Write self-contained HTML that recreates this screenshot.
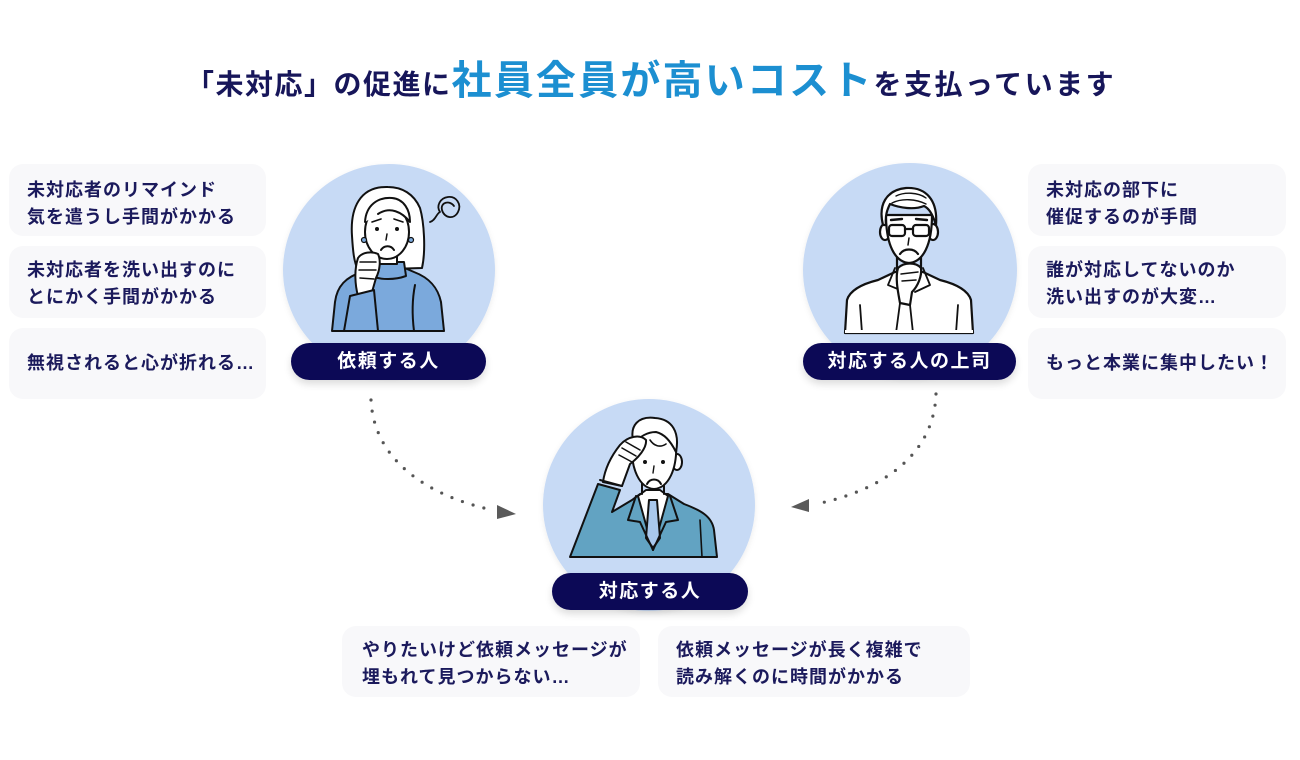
<!DOCTYPE html>
<html lang="ja">
<head>
<meta charset="utf-8">
<style>
  html,body{margin:0;padding:0;background:#fff;}
  body{width:1300px;height:760px;position:relative;overflow:hidden;
    font-family:"Liberation Sans","Noto Sans CJK JP",sans-serif;}
  .title{position:absolute;left:186px;top:61px;white-space:nowrap;font-weight:700;
    font-size:40px;line-height:40px;color:#17165a;}
  .title .n1{font-size:28px;letter-spacing:1.5px;}
  .title .n2{font-size:28px;letter-spacing:2.5px;}
  .title .b{font-size:40px;letter-spacing:2.2px;color:#1c8fd1;}
  .card{position:absolute;background:#f8f8fa;border-radius:14px;}
  .txt{position:absolute;font-size:18px;line-height:27px;font-weight:700;color:#1b1a5c;
    letter-spacing:1px;white-space:nowrap;}
  .pill{position:absolute;height:37px;border-radius:19px;background:#0c0956;color:#fff;
    font-weight:700;font-size:19px;letter-spacing:1.5px;line-height:37px;text-align:center;
    box-shadow:0 4px 8px rgba(0,0,0,0.14);}
  svg{position:absolute;left:0;top:0;}
</style>
</head>
<body>

<div class="title"><span class="n1">「未対応」の促進に</span><span class="b">社員全員が高いコスト</span><span class="n2">を支払っています</span></div>

<!-- left cards -->
<div class="card" style="left:9px;top:164px;width:257px;height:72px;"></div>
<div class="card" style="left:9px;top:246px;width:257px;height:72px;"></div>
<div class="card" style="left:9px;top:328px;width:257px;height:71px;"></div>
<!-- right cards -->
<div class="card" style="left:1028px;top:164px;width:258px;height:72px;"></div>
<div class="card" style="left:1028px;top:246px;width:258px;height:72px;"></div>
<div class="card" style="left:1028px;top:328px;width:258px;height:71px;"></div>
<!-- bottom cards -->
<div class="card" style="left:342px;top:626px;width:298px;height:71px;"></div>
<div class="card" style="left:658px;top:626px;width:312px;height:71px;"></div>

<svg width="1300" height="760" viewBox="0 0 1300 760">
  <defs>
    <clipPath id="c1"><circle cx="389" cy="270" r="106"/></clipPath>
    <clipPath id="c2"><circle cx="910" cy="270" r="107"/></clipPath>
    <clipPath id="c3"><circle cx="649" cy="505" r="106"/></clipPath>
    <filter id="sh" x="-20%" y="-20%" width="140%" height="140%">
      <feDropShadow dx="0" dy="2" stdDeviation="3" flood-color="#000" flood-opacity="0.08"/>
    </filter>
  </defs>

  <!-- circles -->
  <circle cx="389" cy="270" r="106" fill="#c7daf5" filter="url(#sh)"/>
  <circle cx="910" cy="270" r="107" fill="#c7daf5" filter="url(#sh)"/>
  <circle cx="649" cy="505" r="106" fill="#c7daf5" filter="url(#sh)"/>

  <!-- ===== Woman ===== -->
  <g clip-path="url(#c1)" stroke="#111" stroke-width="2" stroke-linejoin="round" stroke-linecap="round">
    <!-- back hair -->
    <path d="M388,187 C360,186 350,208 352,236 C353,252 354,262 358,270 L422,268 C426,250 424,222 420,208 C414,194 402,187 388,187 Z" fill="#fff"/>
    <!-- sweater body -->
    <path d="M332,331 L335,302 C337,286 346,277 362,272 L376,266 L400,266 L414,272 C430,278 438,288 441,302 L444,331 Z" fill="#7ba9dc"/>
    <!-- turtleneck -->
    <path d="M372,262 L404,262 L406,276 C395,280 381,280 370,276 Z" fill="#7ba9dc"/>
    <path d="M362,290 C366,300 368,312 367,331" fill="none"/>
    <path d="M415,285 C412,300 412,315 414,331" fill="none"/>
    <!-- neck -->
    <path d="M379,252 L379,264 L397,264 L397,252" fill="#fff"/>
    <!-- face -->
    <ellipse cx="387" cy="232" rx="22" ry="27" fill="#fff"/>
    <!-- bangs -->
    <path d="M365,222 C366,205 378,197 392,198 C404,199 410,210 410,222 C402,212 390,206 378,214" fill="#fff"/>
    <!-- eyebrows/eyes -->
    <path d="M372,222 L381,219" fill="none" stroke-width="1.6"/>
    <path d="M394,219 L403,222" fill="none" stroke-width="1.6"/>
    <circle cx="377" cy="229" r="2" fill="#111" stroke="none"/>
    <circle cx="397" cy="229" r="2" fill="#111" stroke="none"/>
    <path d="M387,234 L386,240" fill="none" stroke-width="1.5"/>
    <path d="M381,250 C384,245 391,245 394,250" fill="none"/>
    <!-- earrings -->
    <circle cx="364" cy="240" r="2.5" fill="#7ba9dc" stroke-width="1.2"/>
    <circle cx="411" cy="240" r="2.5" fill="#7ba9dc" stroke-width="1.2"/>
    <!-- hand -->
    <path d="M358,258 C362,252 372,251 378,254 C381,260 380,270 376,278 L372,292 L358,296 C355,285 354,270 358,258 Z" fill="#fff"/>
    <path d="M360,262 L376,262 M359,270 L376,270 M360,278 L374,279" fill="none" stroke-width="1.5"/>
    <!-- sleeve -->
    <path d="M350,296 L374,290 L378,331 L344,331 Z" fill="#7ba9dc"/>
    <!-- squiggle -->
    <path d="M430,222 C436,220 436,214 440,212 C436,206 440,198 448,197 C456,196 462,204 458,212 C454,220 444,218 442,210 C440,202 450,200 454,206" fill="none" stroke-width="1.8"/>
  </g>

  <!-- ===== Boss ===== -->
  <g clip-path="url(#c2)" stroke="#111" stroke-width="2.2" stroke-linejoin="round" stroke-linecap="round">
    <!-- body -->
    <path d="M845,333 L847,300 C850,290 862,284 878,280 L895,272 L923,272 L940,280 C956,284 968,290 971,300 L973,333 Z" fill="#fff"/>
    <path d="M860,305 L862,333 M958,305 L956,333" fill="none" stroke-width="1.8"/>
    <!-- collar -->
    <path d="M895,268 L888,285 L905,292 M923,268 L930,285 L915,292" fill="none" stroke-width="1.8"/>
    <!-- neck -->
    <path d="M897,255 L897,272 M921,255 L921,272" fill="none"/>
    <!-- ears -->
    <ellipse cx="885" cy="232" rx="5" ry="8" fill="#fff"/>
    <ellipse cx="933" cy="232" rx="5" ry="8" fill="#fff"/>
    <!-- face -->
    <path d="M886,215 C886,245 895,262 909,263 C923,262 932,245 932,215 Z" fill="#fff"/>
    <!-- hair -->
    <path d="M883,225 C878,205 886,190 906,188 C926,187 938,200 936,225 C932,212 928,208 924,206 C914,210 900,208 890,204 C887,210 885,216 886,225 Z" fill="#fff"/>
    <path d="M896,196 C904,192 918,192 926,198 M892,203 C902,198 916,199 926,204" fill="none" stroke-width="1.4"/>
    <!-- brows -->
    <path d="M891,220 L902,219 M916,219 L927,220" fill="none" stroke-width="2.4"/>
    <!-- glasses -->
    <rect x="889" y="225" width="16" height="11" rx="3" fill="none"/>
    <rect x="913" y="225" width="16" height="11" rx="3" fill="none"/>
    <path d="M905,229 L913,229" fill="none"/>
    <path d="M909,238 L908,245" fill="none" stroke-width="1.5"/>
    <path d="M900,254 C904,248 914,248 918,254" fill="none"/>
    <!-- hand -->
    <path d="M898,268 C904,262 916,262 921,268 C922,276 918,286 912,292 L910,305 L900,303 C898,292 895,278 898,268 Z" fill="#fff"/>
    <path d="M901,274 L918,272 M902,281 L916,280" fill="none" stroke-width="1.5"/>
    <path d="M900,303 L896,333 M910,305 L913,333" fill="none" stroke-width="1.8"/>
  </g>
  <rect x="845" y="330" width="128" height="3" fill="#fff"/>

  <!-- ===== Center man ===== -->
  <g clip-path="url(#c3)" stroke="#111" stroke-width="2" stroke-linejoin="round" stroke-linecap="round">
    <!-- suit body -->
    <path d="M570,557 L598,484 L620,490 L612,512 L632,500 L640,494 L668,494 L684,504 C700,510 712,516 714,530 L717,557 Z" fill="#62a3c2"/>
    <!-- shirt -->
    <path d="M638,496 L653,550 L668,496 L660,490 L646,490 Z" fill="#fff"/>
    <!-- tie -->
    <path d="M649,500 L657,500 L660,538 L653,548 L646,538 Z" fill="#a9c8ec"/>
    <!-- lapels -->
    <path d="M636,496 L628,520 L640,522 L653,550 M670,496 L678,520 L666,522 L653,550" fill="none"/>
    <path d="M700,520 L702,557" fill="none" stroke-width="1.6"/>
    <!-- neck -->
    <path d="M642,478 L642,494 M664,478 L664,494" fill="none"/>
    <!-- head -->
    <ellipse cx="677" cy="462" rx="5" ry="8" fill="#fff"/>
    <path d="M632,440 C630,470 640,488 654,489 C668,488 678,470 676,440 C670,425 640,425 632,440 Z" fill="#fff"/>
    <path d="M634,444 C628,424 640,416 655,418 C672,419 680,432 676,452 C670,440 664,434 656,432 C648,432 640,436 634,444 Z" fill="#fff"/>
    <path d="M650,440 C654,446 660,448 666,444" fill="none" stroke-width="1.6"/>
    <circle cx="645" cy="462" r="2" fill="#111" stroke="none"/>
    <circle cx="663" cy="462" r="2" fill="#111" stroke="none"/>
    <path d="M654,466 L653,473" fill="none" stroke-width="1.4"/>
    <path d="M647,484 C650,478 658,478 661,484" fill="none"/>
    <!-- hand on forehead -->
    <path d="M603,482 C605,468 612,455 620,445 C628,436 640,434 646,440 C647,448 638,458 630,464 L622,486 Z" fill="#fff"/>
    <path d="M626,442 L640,450 M622,448 L636,456 M619,455 L632,462" fill="none" stroke-width="1.5"/>
    <!-- cuff -->
    <path d="M600,480 L622,486" fill="none"/>
  </g>

  <!-- dotted connectors -->
  <path d="M371,400 C374,462 430,496 492,510" fill="none" stroke="#555" stroke-width="3.2" stroke-linecap="round" stroke-dasharray="0 11.2"/>
  <polygon points="497,505 516,514 497,519" fill="#5a5a5a"/>
  <path d="M936,394 C934,456 880,491 816,504" fill="none" stroke="#555" stroke-width="3.2" stroke-linecap="round" stroke-dasharray="0 11.2"/>
  <polygon points="809,499 791,507 809,512" fill="#5a5a5a"/>
</svg>

<!-- pills -->
<div class="pill" style="left:291px;top:343px;width:195px;">依頼する人</div>
<div class="pill" style="left:803px;top:343px;width:213px;">対応する人の上司</div>
<div class="pill" style="left:552px;top:573px;width:196px;">対応する人</div>

<!-- left card texts -->
<div class="txt" style="left:27px;top:177px;">未対応者のリマインド<br>気を遣うし手間がかかる</div>
<div class="txt" style="left:27px;top:257px;">未対応者を洗い出すのに<br>とにかく手間がかかる</div>
<div class="txt" style="left:27px;top:350px;">無視されると心が折れる…</div>

<!-- right card texts -->
<div class="txt" style="left:1046px;top:177px;">未対応の部下に<br>催促するのが手間</div>
<div class="txt" style="left:1046px;top:257px;">誰が対応してないのか<br>洗い出すのが大変…</div>
<div class="txt" style="left:1046px;top:350px;">もっと本業に集中したい！</div>

<!-- bottom card texts -->
<div class="txt" style="left:362px;top:637px;">やりたいけど依頼メッセージが<br>埋もれて見つからない…</div>
<div class="txt" style="left:676px;top:637px;">依頼メッセージが長く複雑で<br>読み解くのに時間がかかる</div>

</body>
</html>
